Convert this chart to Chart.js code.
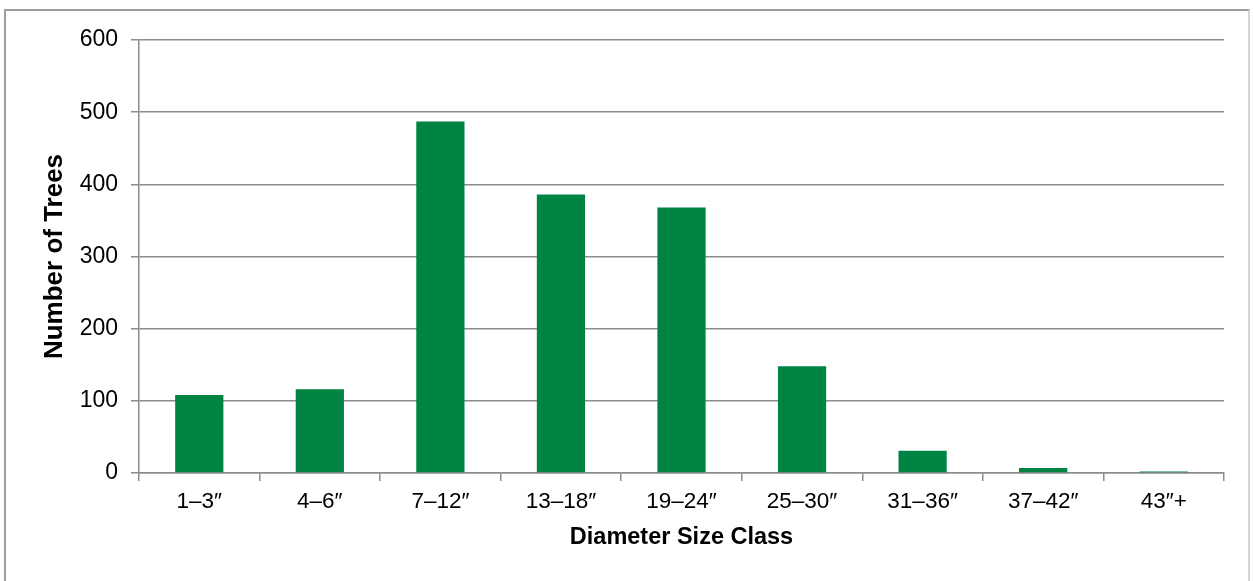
<!DOCTYPE html>
<html>
<head>
<meta charset="utf-8">
<script src="https://cdn.jsdelivr.net/npm/chart.js@4/dist/chart.umd.min.js"></script>
<style>
  html, body { margin: 0; padding: 0; background: #fff; overflow: hidden; }
  #wrap { position: relative; width: 1253px; height: 581px; }
  #frame {
    position: absolute; left: 4px; top: 9px; width: 1246px; height: 620px;
    border: 2px solid #9d9d9d; border-right-color: #d6d6d6; box-sizing: border-box;
  }
  #chart { position: absolute; left: 0; top: 0; }
</style>
</head>
<body>
<div id="wrap">
  <div id="frame"></div>
  <canvas id="chart" width="1253" height="581"></canvas>
</div>
<script>
// Tree counts by trunk diameter class
const sizeClasses = ['1–3″', '4–6″', '7–12″', '13–18″', '19–24″', '25–30″', '31–36″', '37–42″', '43″+'];
const treeCounts = [108, 116, 487, 386, 368, 148, 31, 7, 2];
const yTicks = [0, 100, 200, 300, 400, 500, 600];

const GRID = '#8c8c8c';
const FONT = 'Liberation Sans, Arial, sans-serif';

new Chart(document.getElementById('chart'), {
  type: 'bar',
  data: {
    labels: sizeClasses,
    datasets: [{
      data: treeCounts,
      backgroundColor: '#008444',
      borderWidth: 0,
      categoryPercentage: 1.0,
      barPercentage: 0.4
    }]
  },
  options: {
    responsive: false,
    animation: false,
    devicePixelRatio: 1,
    layout: { padding: { top: 40, right: 29, bottom: 0, left: 0 } },
    plugins: { legend: { display: false }, tooltip: { enabled: false } },
    scales: {
      x: {
        grid: {
          display: true, drawOnChartArea: false, drawTicks: true,
          tickLength: 8, color: GRID, lineWidth: 1.5, offset: true
        },
        border: { display: true, color: GRID, width: 1.5 },
        ticks: { color: '#000', font: { family: FONT, size: 22.5 }, padding: 7, maxRotation: 0, autoSkip: false },
        title: {
          display: true, text: 'Diameter Size Class', color: '#000',
          font: { family: FONT, size: 23.5, weight: 'bold' },
          padding: { top: 0, bottom: 29 }
        },
        afterFit(scale) { scale.height = 108; }
      },
      y: {
        min: 0, max: 600,
        afterBuildTicks(scale) { scale.ticks = yTicks.map(v => ({ value: v })); },
        grid: { color: GRID, lineWidth: 1.5, tickLength: 8, drawTicks: true },
        border: { display: true, color: GRID, width: 1.5 },
        ticks: { color: '#000', font: { family: FONT, size: 23 }, padding: 13 },
        title: {
          display: true, text: 'Number of Trees', color: '#000',
          font: { family: FONT, size: 26, weight: 'bold' },
          padding: { top: 39, bottom: 0 }
        },
        afterFit(scale) { scale.width = 139; }
      }
    }
  }
});
</script>
</body>
</html>
